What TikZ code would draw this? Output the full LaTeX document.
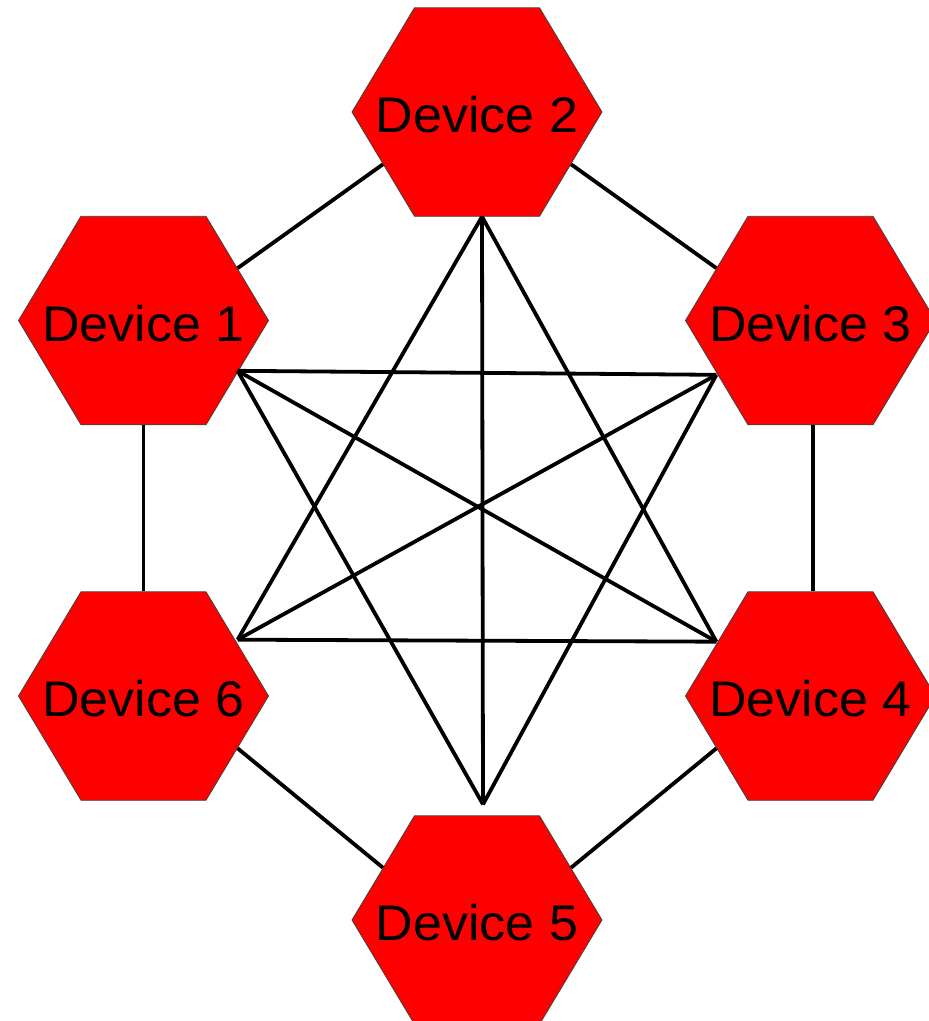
\documentclass[tikz,border=0pt]{standalone}
\usepackage{fontspec}
\setmainfont{Liberation Sans}
\usetikzlibrary{shapes.geometric}
\newcommand\devlabel[1]{\makebox[0pt][c]{\raisebox{0pt}[43pt][0pt]{#1}}}
\begin{document}
\begin{tikzpicture}[x=1pt,y=-1pt,
  device/.style={regular polygon, regular polygon sides=6, minimum size=250pt,
    inner sep=0pt, fill={rgb,255:red,255;green,0;blue,0}, draw=black!75, line width=0.8pt,
    yscale=0.963, font=\fontsize{52}{60}\selectfont, text=black},
  link/.style={line width=3.8pt, black}]
\useasboundingbox (0,0) rectangle (929,1021);
\node[device] (d1) at (143.5,320.5) {\devlabel{Device 1}};
\node[device] (d2) at (477,112) {\devlabel{Device 2}};
\node[device] (d3) at (810.5,320.5) {\devlabel{Device 3}};
\node[device] (d4) at (810.5,696) {\devlabel{Device 4}};
\node[device] (d5) at (477,920) {\devlabel{Device 5}};
\node[device] (d6) at (143.5,696) {\devlabel{Device 6}};
\coordinate (c1) at ([yshift=2pt]d1.330);
\coordinate (c2) at ([xshift=5pt]d2.south);
\coordinate (c3) at ([yshift=-2pt]d3.210);
\coordinate (c4) at ([yshift=2pt]d4.150);
\coordinate (c5) at ([xshift=6pt,yshift=11pt]d5.north);
\coordinate (c6) at ([yshift=4pt]d6.30);
% ring
\draw[link] (d1.30) -- (d2.210);
\draw[link] (d2.330) -- (d3.150);
\draw[link] ([xshift=2.5pt]d3.south) -- ([xshift=2.5pt]d4.north);
\draw[link] (d4.210) -- (d5.30);
\draw[link] (d5.150) -- (d6.330);
\draw[link] (d6.north) -- (d1.south);
% interior
\draw[link] (c2) -- (c6);
\draw[link] (c2) -- (c4);
\draw[link] (c2) -- (c5);
\draw[link] (c1) -- (c3);
\draw[link] (c1) -- (c4);
\draw[link] (c1) -- (c5);
\draw[link] (c3) -- (c6);
\draw[link] (c3) -- (c5);
\draw[link] (c6) -- (c4);
\end{tikzpicture}
\end{document}
